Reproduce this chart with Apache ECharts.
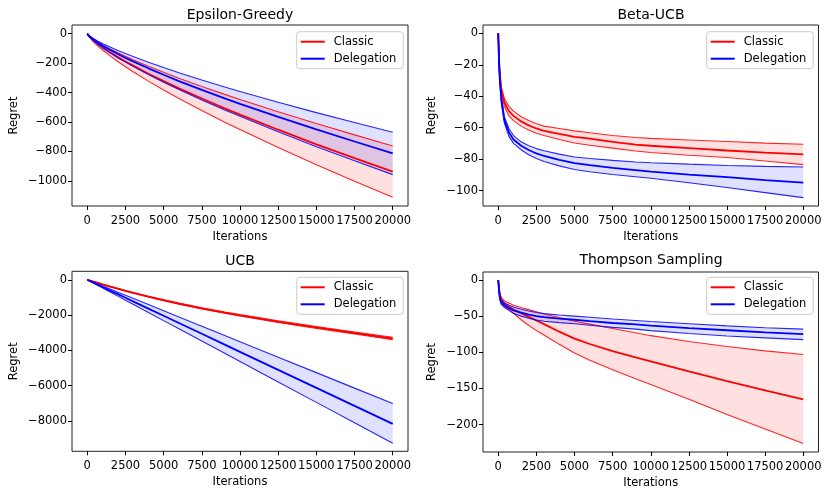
<!DOCTYPE html>
<html>
<head>
<meta charset="utf-8">
<script src="https://cdn.jsdelivr.net/npm/echarts@6/dist/echarts.min.js"></script>
<style>
html, body { margin: 0; padding: 0; background: #fff; }
#chart { width: 830px; height: 496px; }
</style>
</head>
<body>
<div id="chart"></div>
<script>
var iters = [0, 50, 100, 200, 400, 700, 1000, 1500, 2000, 2500, 3000, 4000, 5000, 6000, 7500, 9000, 10000, 12500, 15000, 17500, 20000];

var xTicks = [0, 2500, 5000, 7500, 10000, 12500, 15000, 17500, 20000];
var epsYTicks = [0, -200, -400, -600, -800, -1000];
var betaYTicks = [0, -20, -40, -60, -80, -100];
var ucbYTicks = [0, -2000, -4000, -6000, -8000];
var tsYTicks = [0, -50, -100, -150, -200];

// Epsilon-Greedy
var epsClassicMean  = [0, -9, -16, -27, -46, -71, -93, -127, -159, -189, -217, -272, -322, -371, -440, -507, -549, -652, -751, -845, -937];
var epsClassicUpper = [0, -8, -13, -22, -37, -58, -76, -104, -130, -154, -177, -221, -262, -302, -358, -412, -447, -530, -610, -687, -762];
var epsClassicLower = [0, -11, -19, -32, -55, -84, -111, -151, -189, -224, -258, -322, -382, -440, -522, -601, -651, -773, -890, -1002, -1111];
var epsDelegMean    = [0, -8, -14, -23, -40, -61, -81, -110, -138, -164, -188, -235, -279, -322, -382, -439, -476, -565, -650, -732, -812];
var epsDelegUpper   = [0, -7, -11, -19, -33, -51, -67, -91, -114, -135, -155, -194, -230, -265, -314, -362, -392, -466, -536, -603, -669];
var epsDelegLower   = [0, -9, -16, -28, -47, -72, -95, -130, -163, -193, -222, -278, -329, -379, -450, -518, -561, -666, -767, -863, -957];

// Beta-UCB
var betaClassicMean  = [0, -16, -26, -36, -44, -49.5, -52.5, -56, -58.5, -60.5, -62, -64, -65.8, -67, -69, -70.8, -71.5, -73, -74.5, -75.8, -77];
var betaClassicUpper = [0, -15, -24, -34, -41.5, -46.5, -49.5, -53, -55.5, -57.5, -59, -60.5, -62, -63.2, -65, -66.2, -66.8, -67.8, -68.8, -69.8, -70.5];
var betaClassicLower = [0, -17, -28, -38, -46.5, -52.5, -55.5, -59, -61.5, -63.5, -65, -67.5, -69.7, -71.2, -73, -74.8, -75.8, -77.5, -79, -81.2, -83.5];
var betaDelegMean    = [0, -18, -29, -42, -55, -63, -67.5, -71.5, -74.2, -76.4, -78, -80.5, -82.5, -83.8, -85.5, -87, -88, -89.8, -91.5, -93.3, -94.9];
var betaDelegUpper   = [0, -17, -27, -40, -53, -60.5, -65, -69, -71.5, -73.3, -74.7, -76.8, -78.6, -79.6, -80.8, -81.8, -82.3, -83.2, -84, -84.6, -85];
var betaDelegLower   = [0, -19, -31, -44, -57, -65.5, -70, -74, -77.2, -79.6, -81.5, -84.3, -86.6, -88, -89.8, -91.2, -92.2, -95, -98, -101.3, -104.5];

// UCB
var ucbClassicMean  = [0, -13, -26, -52, -104, -181, -258, -383, -505, -625, -740, -957, -1160, -1352, -1620, -1865, -2017, -2370, -2700, -3018, -3329];
var ucbClassicUpper = [0, -13, -25, -51, -102, -177, -253, -375, -495, -612, -725, -938, -1137, -1325, -1588, -1828, -1977, -2323, -2646, -2958, -3262];
var ucbClassicLower = [0, -13, -27, -53, -106, -185, -263, -391, -515, -638, -755, -976, -1183, -1379, -1652, -1902, -2057, -2417, -2754, -3078, -3396];
var ucbDelegMean    = [0, -20, -41, -82, -163, -286, -409, -613, -817, -1021, -1226, -1634, -2043, -2451, -3064, -3677, -4085, -5106, -6128, -7149, -8170];
var ucbDelegUpper   = [0, -18, -35, -70, -140, -246, -351, -527, -702, -878, -1053, -1404, -1755, -2106, -2633, -3159, -3510, -4388, -5265, -6143, -7017];
var ucbDelegLower   = [0, -23, -46, -93, -185, -324, -463, -695, -927, -1158, -1390, -1854, -2317, -2780, -3475, -4170, -4634, -5792, -6951, -8109, -9267];

// Thompson Sampling
var tsClassicMean  = [0, -12, -20, -27, -33, -37, -41, -46, -51, -56, -61, -71.5, -81, -88.5, -98.5, -107, -112.5, -126.5, -140, -152.5, -165];
var tsClassicUpper = [0, -11, -18, -24, -29, -32, -35, -38, -41, -44, -47, -52, -57, -61, -67, -73, -77, -85, -92, -98, -103];
var tsClassicLower = [0, -13, -22, -30, -36, -41, -46, -55, -63, -70, -76, -89, -101, -111, -124, -136.5, -144.5, -165, -186, -206, -226];
var tsDelegMean    = [0, -14, -25, -31, -35, -39, -42, -45, -48, -50, -51.5, -53.5, -55, -57, -59.5, -61.5, -63, -66.5, -69.5, -72.5, -75];
var tsDelegUpper   = [0, -13, -23, -28, -32, -35, -37.5, -40.5, -43, -45, -46.5, -48.5, -50, -51.5, -54, -56, -57.5, -60.5, -63.5, -66, -68];
var tsDelegLower   = [0, -15, -27, -34, -38, -42, -46, -50, -53, -55.5, -57, -59, -60.5, -62.5, -65.5, -68, -70, -74, -77.5, -80, -82.5];

var FONT = "'DejaVu Sans'";
var RED = '#ff0000', BLUE = '#0000ff';

var panels = [
	{ title: 'Epsilon-Greedy', box: [72, 25, 336, 181], yMin: -1170, yMax: 59, yTicks: epsYTicks, yGap: 52,
	  legend: [296.7, 31.7], titleAt: [240, 15],
	  c: [epsClassicMean, epsClassicUpper, epsClassicLower], d: [epsDelegMean, epsDelegUpper, epsDelegLower] },
	{ title: 'Beta-UCB', box: [483, 25, 335.5, 181], yMin: -109.8, yMax: 5.3, yTicks: betaYTicks, yGap: 45,
	  legend: [706.7, 31.7], titleAt: [651, 15],
	  c: [betaClassicMean, betaClassicUpper, betaClassicLower], d: [betaDelegMean, betaDelegUpper, betaDelegLower] },
	{ title: 'UCB', box: [72, 271.3, 336, 180], yMin: -9725, yMax: 480, yTicks: ucbYTicks, yGap: 52,
	  legend: [296.7, 277.3], titleAt: [240, 261.3],
	  c: [ucbClassicMean, ucbClassicUpper, ucbClassicLower], d: [ucbDelegMean, ucbDelegUpper, ucbDelegLower] },
	{ title: 'Thompson Sampling', box: [483, 272, 335.5, 180], yMin: -237.8, yMax: 11, yTicks: tsYTicks, yGap: 45,
	  legend: [706.7, 277.3], titleAt: [651, 260.7],
	  c: [tsClassicMean, tsClassicUpper, tsClassicLower], d: [tsDelegMean, tsDelegUpper, tsDelegLower] }
];

function pairs(ys) {
	return iters.map(function (x, i) { return [x, ys[i]]; });
}

function minus(v) {
	return String(v).replace('-', '\u2212');
}

// shaded region between upper and lower, as one polygon through the axes
function fillSeries(idx, upper, lower, fill) {
	return {
		type: 'custom', xAxisIndex: idx, yAxisIndex: idx, silent: true,
		data: [[0, 0]],
		renderItem: function (params, api) {
			var pts = [];
			for (var k = 0; k < iters.length; k++) pts.push(api.coord([iters[k], upper[k]]));
			for (var k = iters.length - 1; k >= 0; k--) pts.push(api.coord([iters[k], lower[k]]));
			return { type: 'polygon', shape: { points: pts }, style: { fill: fill } };
		}
	};
}

function bandAndMean(name, idx, vals, color, fill) {
	var edge = { color: color, width: 1.1, opacity: 0.85 };
	return [
		fillSeries(idx, vals[1], vals[2], fill),
		{ type: 'line', name: name + ' upper', xAxisIndex: idx, yAxisIndex: idx,
		  data: pairs(vals[1]), symbol: 'none', lineStyle: edge, silent: true },
		{ type: 'line', name: name + ' lower', xAxisIndex: idx, yAxisIndex: idx,
		  data: pairs(vals[2]), symbol: 'none', lineStyle: edge, silent: true },
		{ type: 'line', name: name, xAxisIndex: idx, yAxisIndex: idx,
		  data: pairs(vals[0]), symbol: 'none',
		  lineStyle: { color: color, width: 1.8 }, itemStyle: { color: color } }
	];
}

var option = {
	animation: false,
	backgroundColor: '#fff',
	grid: [], xAxis: [], yAxis: [], legend: [], series: [], graphic: []
};

for (var i = 0; i < panels.length; i++) {
	var p = panels[i];
	option.grid.push({
		left: p.box[0], top: p.box[1], width: p.box[2], height: p.box[3],
		show: true, borderColor: '#222', borderWidth: 1, backgroundColor: 'transparent'
	});
	option.xAxis.push({
		gridIndex: i, type: 'value', min: -1000, max: 21000,
		name: 'Iterations', nameLocation: 'middle', nameGap: 25,
		nameTextStyle: { fontFamily: FONT, fontSize: 11.5, color: '#000', verticalAlign: 'top' },
		axisLine: { show: false, onZero: false },
		axisTick: { show: true, customValues: xTicks, length: 4, lineStyle: { color: '#000' } },
		axisLabel: { customValues: xTicks, fontFamily: FONT, fontSize: 11.5, color: '#000', margin: 9,
		             showMinLabel: true, showMaxLabel: true, hideOverlap: false,
		             formatter: function (v) { return String(v); } },
		splitLine: { show: false }
	});
	option.yAxis.push({
		gridIndex: i, type: 'value', min: p.yMin, max: p.yMax,
		name: 'Regret', nameLocation: 'middle', nameGap: p.yGap,
		nameTextStyle: { fontFamily: FONT, fontSize: 11.5, color: '#000' },
		axisLine: { show: false, onZero: false },
		axisTick: { show: true, customValues: p.yTicks, length: 4, lineStyle: { color: '#000' } },
		axisLabel: { customValues: p.yTicks, fontFamily: FONT, fontSize: 11.5, color: '#000', margin: 5,
		             showMinLabel: true, showMaxLabel: true, formatter: minus },
		splitLine: { show: false }
	});
	option.legend.push({
		left: p.legend[0], top: p.legend[1], orient: 'vertical',
		data: ['Classic', 'Delegation'], icon: 'rect', itemWidth: 24, itemHeight: 2, itemGap: 5,
		padding: [4, 7, 4, 4], borderColor: '#ccc', borderWidth: 1, borderRadius: 3,
		backgroundColor: '#fff', selectedMode: false,
		textStyle: { fontFamily: FONT, fontSize: 11.5, color: '#000', lineHeight: 12, padding: [0, 0, 0, 4] }
	});
	option.graphic.push({
		type: 'text', x: p.titleAt[0], y: p.titleAt[1],
		style: { text: p.title, fontFamily: FONT, fontSize: 14, fill: '#000', textAlign: 'center', textVerticalAlign: 'middle' }
	});
	option.series = option.series
		.concat(bandAndMean('Classic', i, p.c, RED, 'rgba(255,0,0,0.12)'))
		.concat(bandAndMean('Delegation', i, p.d, BLUE, 'rgba(0,0,255,0.12)'));
}

var chart = echarts.init(document.getElementById('chart'));
chart.setOption(option);
</script>
</body>
</html>
